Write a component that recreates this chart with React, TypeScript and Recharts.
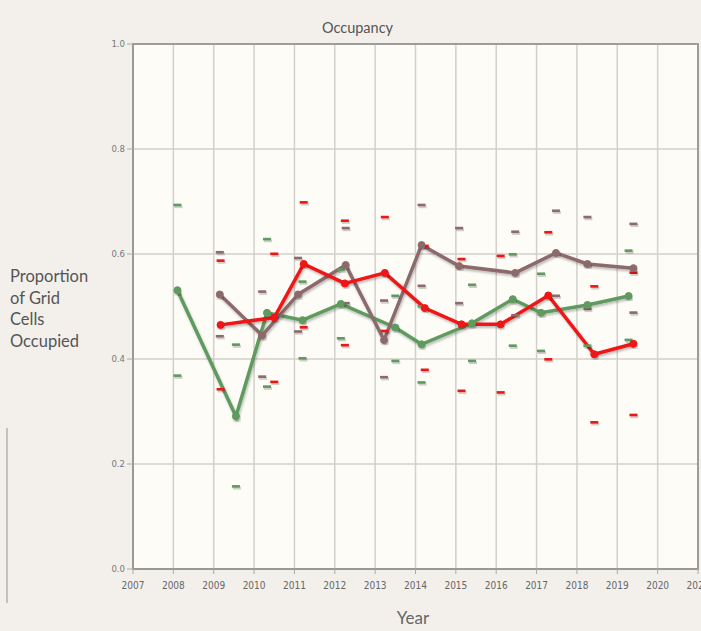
import React from 'react';
import { ComposedChart, Line, Scatter, XAxis, YAxis, CartesianGrid, ReferenceArea } from 'recharts';

const yearTicks = [2007, 2008, 2009, 2010, 2011, 2012, 2013, 2014, 2015, 2016, 2017, 2018, 2019, 2020, 2021];
const yTicks = [0, 0.2, 0.4, 0.6, 0.8, 1.0];

const greenYears = [2008.1, 2009.55, 2010.32, 2011.2, 2012.15, 2013.5, 2014.15, 2015.4, 2016.41, 2017.11, 2018.26, 2019.28];
const greenVals = [0.531, 0.291, 0.488, 0.474, 0.505, 0.46, 0.428, 0.468, 0.514, 0.488, 0.503, 0.52];
const greenUpper = [0.693, 0.427, 0.628, 0.547, 0.57, 0.52, 0.5, 0.541, 0.599, 0.562, 0.58, 0.606];
const greenLower = [0.368, 0.157, 0.347, 0.401, 0.439, 0.396, 0.355, 0.396, 0.425, 0.415, 0.425, 0.436];

const redYears = [2009.17, 2010.5, 2011.23, 2012.25, 2013.24, 2014.23, 2015.14, 2016.11, 2017.29, 2018.43, 2019.4];
const redVals = [0.465, 0.479, 0.581, 0.544, 0.564, 0.497, 0.466, 0.466, 0.521, 0.409, 0.429];
const redUpper = [0.587, 0.6, 0.698, 0.663, 0.67, 0.615, 0.59, 0.596, 0.641, 0.538, 0.564];
const redLower = [0.342, 0.356, 0.46, 0.426, 0.453, 0.379, 0.339, 0.336, 0.399, 0.279, 0.293];

const brownYears = [2009.15, 2010.2, 2011.09, 2012.27, 2013.22, 2014.15, 2015.08, 2016.47, 2017.48, 2018.26, 2019.4];
const brownVals = [0.523, 0.445, 0.523, 0.579, 0.436, 0.617, 0.577, 0.564, 0.602, 0.581, 0.573];
const brownUpper = [0.603, 0.528, 0.592, 0.649, 0.511, 0.693, 0.649, 0.642, 0.682, 0.67, 0.657];
const brownLower = [0.443, 0.366, 0.452, 0.506, 0.365, 0.539, 0.506, 0.483, 0.52, 0.495, 0.488];

const GREEN = '#5f9a5f';
const RED = '#ee1515';
const BROWN = '#8d6b6b';

const toPts = (xs: number[], ys: number[]) => xs.map((x, i) => ({ x, y: ys[i] }));
const toDashes = (xs: number[], up: number[], lo: number[]) => [
  ...xs.map((x, i) => ({ x, y: up[i] })),
  ...xs.map((x, i) => ({ x, y: lo[i] })),
];

const makeDash = (color: string) => (props: any) => {
  const { cx, cy } = props;
  if (cx == null || cy == null) return <g />;
  return (
    <g>
      <rect x={cx - 3} y={cy} width={8} height={3} fill="#000" opacity={0.18} />
      <rect x={cx - 4} y={cy - 1.5} width={8} height={2.6} fill={color} />
    </g>
  );
};

const font = 'Lato, "Open Sans", sans-serif';

export default function App() {
  return (
    <div style={{ position: 'absolute', left: 0, top: 0, width: 701, height: 631, background: '#f3f0ec', overflow: 'hidden' }}>
      <div style={{ position: 'absolute', left: 6, top: 428, width: 2, height: 175, background: '#c4c2bf' }} />
      <div style={{ position: 'absolute', left: 0, width: 715, top: 19, textAlign: 'center', fontFamily: font, fontSize: 14.5, color: '#555' }}>Occupancy</div>
      <div style={{ position: 'absolute', left: 10, top: 266, fontFamily: font, fontSize: 16.5, color: '#555', lineHeight: '21.5px' }}>
        Proportion<br />of Grid<br />Cells<br />Occupied
      </div>
      <div style={{ position: 'absolute', left: 313, width: 200, top: 607, textAlign: 'center', fontFamily: font, fontSize: 17, color: '#666' }}>Year</div>
      <div style={{ position: 'absolute', left: 0, top: 0 }}>
        <ComposedChart width={701} height={631} margin={{ top: 44, right: 3, bottom: 32, left: 93 }}>
          <defs>
            <filter id="lsh" x="-10%" y="-10%" width="120%" height="130%">
              <feDropShadow dx="1" dy="2" stdDeviation="1" floodColor="#000" floodOpacity="0.25" />
            </filter>
          </defs>
          <CartesianGrid stroke="#d3d0cb" strokeWidth={1.5} fill="#fdfcf7" />
          <XAxis
            type="number"
            dataKey="x"
            domain={[2007, 2021]}
            ticks={yearTicks}
            allowDataOverflow
            interval={0}
            height={30}
            axisLine={{ stroke: '#999', strokeWidth: 2 }}
            tickLine={{ stroke: '#aaa' }}
            tickSize={5}
            dy={6}
            tick={{ fontSize: 10, fill: '#666', fontFamily: '"DejaVu Sans Condensed", "Liberation Sans Narrow", sans-serif', dy: 6 }}
          />
          <YAxis
            type="number"
            dataKey="y"
            domain={[0, 1]}
            ticks={yTicks}
            width={40}
            axisLine={{ stroke: '#999', strokeWidth: 2 }}
            tickLine={{ stroke: '#aaa' }}
            tickSize={6}
            tickFormatter={(v: number) => v.toFixed(1)}
            tick={{ fontSize: 9.5, fill: '#777', fontFamily: '"DejaVu Sans Condensed", sans-serif' }}
          />
          <ReferenceArea x1={2007} x2={2021} y1={0} y2={1} fill="none" stroke="#9c9c9c" strokeWidth={2} ifOverflow="visible" />
          <Scatter data={toDashes(greenYears, greenUpper, greenLower)} shape={makeDash(GREEN)} isAnimationActive={false} />
          <Scatter data={toDashes(brownYears, brownUpper, brownLower)} shape={makeDash(BROWN)} isAnimationActive={false} />
          <Scatter data={toDashes(redYears, redUpper, redLower)} shape={makeDash(RED)} isAnimationActive={false} />
          <Line data={toPts(greenYears, greenVals)} dataKey="y" type="linear" stroke={GREEN} strokeWidth={3.5} filter="url(#lsh)"
            dot={{ r: 3.5, fill: GREEN, stroke: GREEN, strokeWidth: 1 }} activeDot={false} isAnimationActive={false} />
          <Line data={toPts(brownYears, brownVals)} dataKey="y" type="linear" stroke={BROWN} strokeWidth={3.5} filter="url(#lsh)"
            dot={{ r: 3.5, fill: BROWN, stroke: BROWN, strokeWidth: 1 }} activeDot={false} isAnimationActive={false} />
          <Line data={toPts(redYears, redVals)} dataKey="y" type="linear" stroke={RED} strokeWidth={3.5} filter="url(#lsh)"
            dot={{ r: 3.5, fill: RED, stroke: RED, strokeWidth: 1 }} activeDot={false} isAnimationActive={false} />
        </ComposedChart>
      </div>
    </div>
  );
}
